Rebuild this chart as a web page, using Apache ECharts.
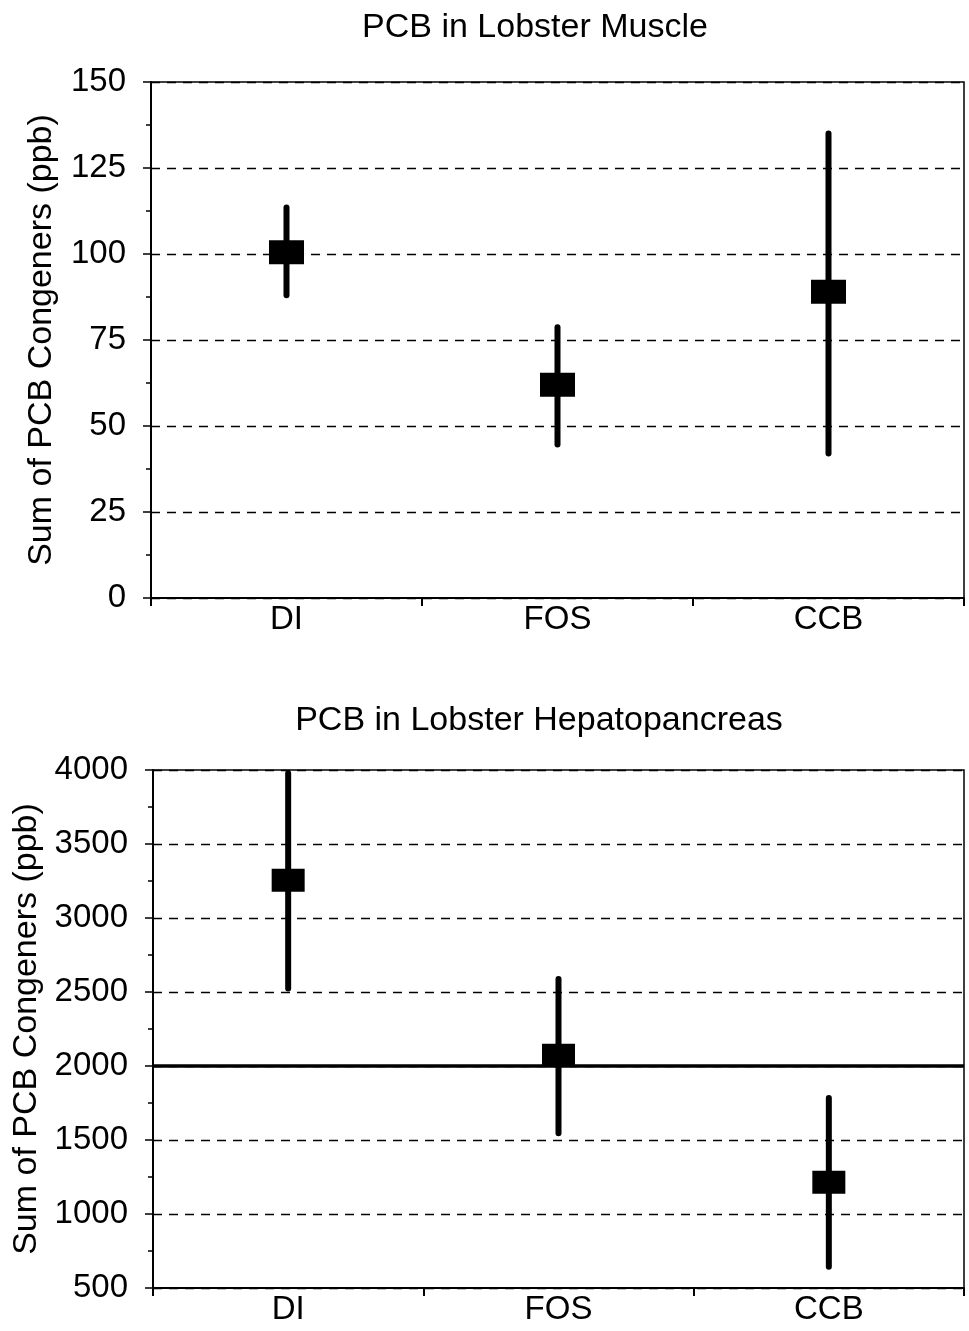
<!DOCTYPE html>
<html>
<head>
<meta charset="utf-8">
<script src="https://cdn.jsdelivr.net/npm/echarts@6/dist/echarts.min.js"></script>
<style>
  html, body { margin: 0; padding: 0; background: #fff; }
  #chart { width: 969px; height: 1331px; }
</style>
</head>
<body>
<div id="chart"></div>
<script>
var categories = ['DI', 'FOS', 'CCB'];

// muscle (ppb)
var muscleMean = [100.5, 62, 89];
var muscleLow = [88, 44.6, 42];
var muscleHigh = [113.5, 78.7, 135];

// hepatopancreas (ppb)
var hepatoMean = [3255, 2072, 1215];
var hepatoLow = [2524, 1546, 643];
var hepatoHigh = [3978, 2587, 1783];

var FONT = '"Liberation Sans", Arial, sans-serif';

function barData(low, high) {
    return categories.map(function (c, i) { return [i, low[i], high[i]]; });
}

function renderBar(params, api) {
    var lo = api.coord([api.value(0), api.value(1)]);
    var hi = api.coord([api.value(0), api.value(2)]);
    return {
        type: 'line',
        shape: { x1: lo[0], y1: lo[1], x2: hi[0], y2: hi[1] },
        style: { stroke: '#000', lineWidth: 6, lineCap: 'round' }
    };
}

function xAxis(gridIndex) {
    return {
        type: 'category',
        gridIndex: gridIndex,
        data: categories,
        axisLine: { lineStyle: { color: '#000', width: 2 } },
        axisTick: { show: true, length: 8, lineStyle: { color: '#000', width: 2 } },
        axisLabel: { color: '#000', fontSize: 33, fontFamily: FONT, margin: 5 },
        splitLine: { show: false }
    };
}

function yAxis(gridIndex, min, max, interval) {
    return {
        type: 'value',
        gridIndex: gridIndex,
        min: min,
        max: max,
        interval: interval,
        name: 'Sum of PCB Congeners (ppb)',
        nameLocation: 'middle',
        nameGap: 92,
        nameTextStyle: { color: '#000', fontSize: 34, fontFamily: FONT },
        axisLine: { show: true, lineStyle: { color: '#000', width: 2 } },
        axisTick: { show: true, length: 8, lineStyle: { color: '#000', width: 1.5 } },
        minorTick: { show: true, splitNumber: 2, length: 5, lineStyle: { color: '#000', width: 1.5 } },
        axisLabel: {
            color: '#000', fontSize: 33, fontFamily: FONT, margin: 25,
            formatter: function (v) { return String(v); }
        },
        splitLine: { show: true, lineStyle: { color: '#000', width: 1.3, type: [9, 7] } }
    };
}

var chart = echarts.init(document.getElementById('chart'));
chart.setOption({
    animation: false,
    backgroundColor: '#fff',
    title: [
        {
            text: 'PCB in Lobster Muscle',
            left: 530, top: 6, textAlign: 'center',
            textStyle: { color: '#000', fontSize: 34, fontWeight: 'normal', fontFamily: FONT }
        },
        {
            text: 'PCB in Lobster Hepatopancreas',
            left: 534, top: 699, textAlign: 'center',
            textStyle: { color: '#000', fontSize: 34, fontWeight: 'normal', fontFamily: FONT }
        }
    ],
    grid: [
        { left: 151, right: 5, top: 82, height: 516, show: true, borderColor: '#000', borderWidth: 1.5 },
        { left: 153, right: 5, top: 770, height: 518, show: true, borderColor: '#000', borderWidth: 1.5 }
    ],
    xAxis: [xAxis(0), xAxis(1)],
    yAxis: [yAxis(0, 0, 150, 25), yAxis(1, 500, 4000, 500)],
    series: [
        {
            type: 'custom', xAxisIndex: 0, yAxisIndex: 0,
            renderItem: renderBar, data: barData(muscleLow, muscleHigh), z: 3
        },
        {
            type: 'scatter', xAxisIndex: 0, yAxisIndex: 0,
            symbol: 'rect', symbolSize: [35, 24],
            itemStyle: { color: '#000', opacity: 1 },
            data: muscleMean, z: 4
        },
        {
            type: 'custom', xAxisIndex: 1, yAxisIndex: 1,
            renderItem: renderBar, data: barData(hepatoLow, hepatoHigh), z: 3
        },
        {
            type: 'scatter', xAxisIndex: 1, yAxisIndex: 1,
            symbol: 'rect', symbolSize: [33, 23],
            itemStyle: { color: '#000', opacity: 1 },
            data: hepatoMean, z: 4,
            markLine: {
                silent: true,
                symbol: 'none',
                label: { show: false },
                lineStyle: { color: '#000', type: 'solid', width: 3.5 },
                data: [{ yAxis: 2000 }]
            }
        }
    ]
});
</script>
</body>
</html>
